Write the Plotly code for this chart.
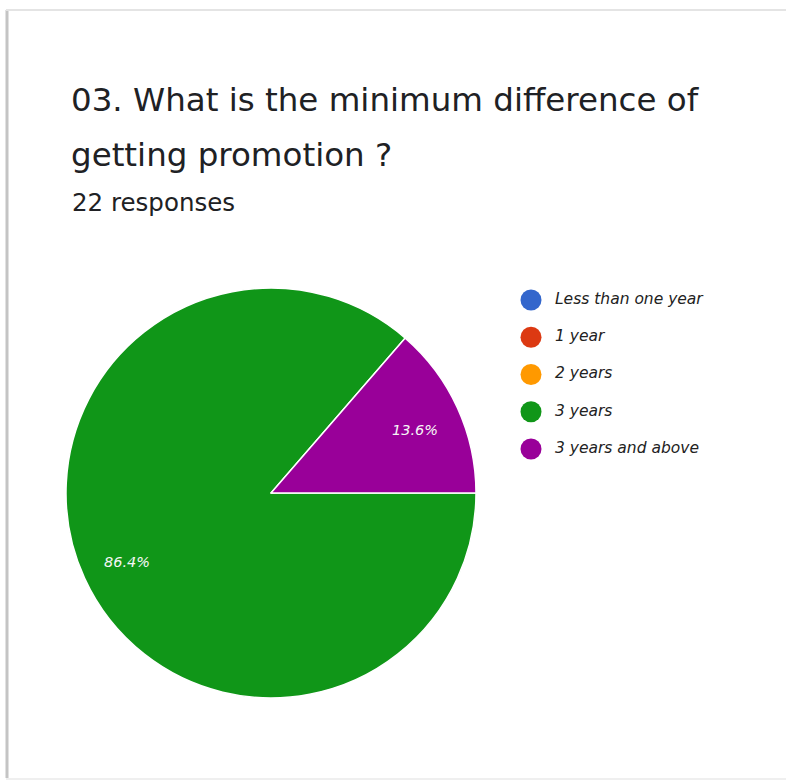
import math
import plotly.graph_objects as go

# Survey answers (22 responses)
categories = ["Less than one year", "1 year", "2 years", "3 years", "3 years and above"]
counts = [0, 0, 0, 19, 3]
colors = ["#3366cc", "#dc3912", "#ff9900", "#109618", "#990099"]

title_line1 = "03. What is the minimum difference of"
title_line2 = "getting promotion ?"
subtitle = f"{sum(counts)} responses"

W, H = 786, 782

# Pie placement in pixels (centre and radius) -> paper domain
CX, CY, R = 271, 493, 205
START_DEG = 0          # first slice starts at 3 o'clock
LABEL_RADIUS = 0.77    # percentage labels sit at this fraction of the radius

fig = go.Figure()

fig.add_trace(go.Pie(
    labels=categories,
    values=counts,
    sort=False,
    direction="clockwise",
    rotation=90 + START_DEG,
    marker=dict(colors=colors, line=dict(color="white", width=1.5)),
    textinfo="none",
    showlegend=False,
    hoverinfo="label+percent",
    domain=dict(x=[(CX - R) / W, (CX + R) / W], y=[1 - (CY + R) / H, 1 - (CY - R) / H]),
))

# Percentage labels at each non-empty slice's mid-angle
total = sum(counts)
annotations = []
acc = 0.0
for n in counts:
    if n > 0:
        mid = (acc + n / 2) / total * 360.0
        ang = math.radians(-(START_DEG + mid))  # clockwise from 3 o'clock
        px = CX + LABEL_RADIUS * R * math.cos(ang)
        py = CY - LABEL_RADIUS * R * math.sin(ang) + 3
        annotations.append(dict(
            text=f"{n / total * 100:.1f}%", x=px / W, y=1 - py / H,
            xref="paper", yref="paper", xanchor="center", yanchor="middle",
            showarrow=False,
            font=dict(family="DejaVu Sans", size=14.5, color="#f6f6f6", style="italic"),
        ))
    acc += n

# Hand-built legend: one dot per category, listed top to bottom
fig.add_trace(go.Scatter(
    x=[0] * len(categories),
    y=list(range(len(categories))),
    mode="markers+text",
    marker=dict(color=colors, size=21, symbol="circle"),
    text=["  " + c for c in categories],
    textposition="middle right",
    textfont=dict(family="DejaVu Sans", size=15.5, color="#222222", style="italic"),
    cliponaxis=False,
    hoverinfo="text",
    showlegend=False,
    xaxis="x",
    yaxis="y",
))

annotations += [
    dict(text=title_line1, x=69 / W, y=1 - 100 / H, xref="paper", yref="paper",
         xanchor="left", yanchor="middle", showarrow=False,
         font=dict(family="DejaVu Sans", size=32.5, color="#202124")),
    dict(text=title_line2, x=69 / W, y=1 - 155 / H, xref="paper", yref="paper",
         xanchor="left", yanchor="middle", showarrow=False,
         font=dict(family="DejaVu Sans", size=32.5, color="#202124")),
    dict(text=subtitle, x=70 / W, y=1 - 202 / H, xref="paper", yref="paper",
         xanchor="left", yanchor="middle", showarrow=False,
         font=dict(family="DejaVu Sans", size=24.5, color="#202124")),
]

fig.update_layout(
    width=W,
    height=H,
    margin=dict(l=0, r=0, t=0, b=0),
    paper_bgcolor="white",
    plot_bgcolor="rgba(0,0,0,0)",
    showlegend=False,
    xaxis=dict(domain=[531 / W, 0.97], range=[0, 1], visible=False, fixedrange=True),
    yaxis=dict(domain=[1 - 467.6 / H, 1 - 281.4 / H], range=[4.5, -0.5],
               visible=False, fixedrange=True),
    annotations=annotations,
    shapes=[
        # card outline: left shadow edge, top and bottom edges
        dict(type="line", xref="paper", yref="paper", x0=7 / W, x1=7 / W,
             y0=1 - 778 / H, y1=1 - 10 / H, line=dict(color="#c4c4c4", width=3)),
        dict(type="line", xref="paper", yref="paper", x0=6 / W, x1=1,
             y0=1 - 10 / H, y1=1 - 10 / H, line=dict(color="#e4e4e4", width=2)),
        dict(type="line", xref="paper", yref="paper", x0=6 / W, x1=1,
             y0=1 - 779 / H, y1=1 - 779 / H, line=dict(color="#efefef", width=2)),
    ],
)

fig.write_html("out.html")
